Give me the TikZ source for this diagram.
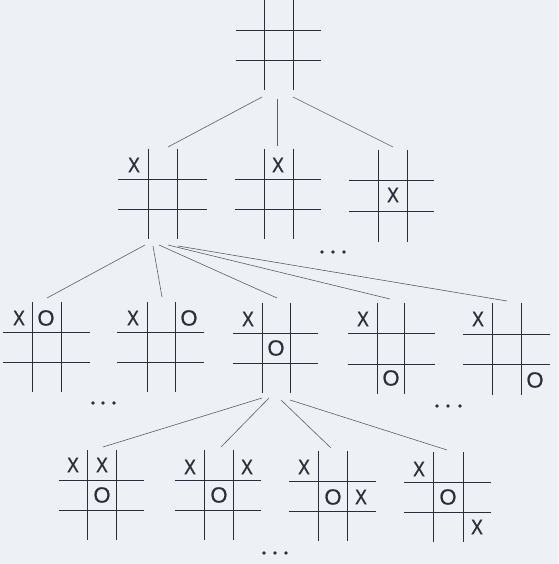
\documentclass[tikz,border=0pt]{standalone}
\usepackage{fontspec}
\newfontfamily\xfont[FakeStretch=0.84,FakeBold=0.8]{Liberation Sans}
\newfontfamily\ofont[FakeBold=0.8]{Liberation Sans}
\definecolor{paper}{HTML}{EDF0F4}
\definecolor{ink}{HTML}{2A2D3A}
\definecolor{edgecol}{HTML}{5A5E68}
\tikzset{
  gridline/.style={draw=ink, line width=1pt},
  branch/.style={draw=edgecol, line width=0.6pt},
  xmk/.style={inner sep=0pt, text=ink, font=\xfont\fontsize{21}{21}\selectfont},
  omk/.style={inner sep=0pt, text=ink, font=\ofont\fontsize{22}{22}\selectfont},
  dotmark/.style={circle, fill=ink, inner sep=0pt, minimum size=3.8pt},
}
% name, v1, v2, top, bottom, h1, h2, left, right
\newcommand{\tgrid}[9]{%
  \coordinate (#1) at ({(#2+#3)/2},{(#6+#7)/2});
  \draw[gridline] (#2,#4) -- (#2,#5) (#3,#4) -- (#3,#5) (#8,#6) -- (#9,#6) (#8,#7) -- (#9,#7);
}
\begin{document}
\begin{tikzpicture}[x=1pt,y=-1pt]
\fill[paper] (0,0) rectangle (558,564);
\useasboundingbox (0,0) rectangle (558,564);

% boards
\tgrid{root}{264}{293}{0}{90}{31}{61}{236}{321}
\tgrid{l1a}{148}{177}{149}{239}{179}{209}{118}{207}
\tgrid{l1b}{264}{293}{149}{239}{179}{209}{235}{321}
\tgrid{l1c}{378}{407}{150}{242}{180}{211}{349}{434}
\tgrid{l2a}{32}{61}{302}{392}{332}{362}{3}{90}
\tgrid{l2b}{147}{175}{302}{392}{332}{362}{117}{204}
\tgrid{l2c}{262}{290}{303}{393}{333}{363}{233}{318}
\tgrid{l2d}{377}{404}{303}{394}{333}{364}{348}{435}
\tgrid{l2e}{492}{521}{303}{395}{334}{364}{463}{550}
\tgrid{l3a}{87}{116}{450}{540}{480}{510}{59}{144}
\tgrid{l3b}{204}{233}{450}{540}{480}{510}{175}{261}
\tgrid{l3c}{318}{347}{451}{541}{481}{511}{289}{376}
\tgrid{l3d}{433}{463}{452}{542}{482}{512}{404}{491}

% marks
\node[xmk] (l1a-x) at (134,165) {X};
\node[xmk] (l1b-x) at (278,165) {X};
\node[xmk] (l1c-x) at (393,195) {X};
\node[xmk] (l2a-x) at (19,318) {X};
\node[omk] (l2a-o) at (46,318) {O};
\node[xmk] (l2b-x) at (133,318) {X};
\node[omk] (l2b-o) at (189,318) {O};
\node[xmk] (l2c-x) at (248,319) {X};
\node[omk] (l2c-o) at (276,348) {O};
\node[xmk] (l2d-x) at (363,319) {X};
\node[omk] (l2d-o) at (391,378) {O};
\node[xmk] (l2e-x) at (478,319) {X};
\node[omk] (l2e-o) at (535,380) {O};
\node[xmk] (l3a-x1) at (73,465) {X};
\node[xmk] (l3a-x2) at (102,465) {X};
\node[omk] (l3a-o) at (102,495) {O};
\node[xmk] (l3b-x1) at (190,467) {X};
\node[xmk] (l3b-x2) at (247,467) {X};
\node[omk] (l3b-o) at (219,495) {O};
\node[xmk] (l3c-x1) at (304,467) {X};
\node[omk] (l3c-o) at (333,497) {O};
\node[xmk] (l3c-x2) at (361,497) {X};
\node[xmk] (l3d-x1) at (419,469) {X};
\node[omk] (l3d-o) at (448,497) {O};
\node[xmk] (l3d-x2) at (477,527) {X};

% ellipses
\foreach \n/\x/\y in {d1a/322/252,d1b/333/252,d1c/344/252,
                      d2a/93/403,d2b/103/403,d2c/114/403,
                      d3a/437/406,d3b/448/406,d3c/460/406,
                      d4a/264/553,d4b/275/553,d4c/286/553}
  \node[dotmark] (\n) at (\x,\y) {};

% connector end points
\coordinate (r-s1) at (262,97);  \coordinate (l1a-n) at (168,147);
\coordinate (r-s2) at (277,99);  \coordinate (l1b-n) at (277,146);
\coordinate (r-s3) at (293,97);  \coordinate (l1c-n) at (393,147);
\coordinate (a-s1) at (145,245); \coordinate (l2a-n) at (47,298);
\coordinate (a-s2) at (153,246); \coordinate (l2b-n) at (162,297);
\coordinate (a-s3) at (159,245); \coordinate (l2c-n) at (277,298);
\coordinate (a-s4) at (168,245); \coordinate (l2d-n) at (390,299);
\coordinate (a-s5) at (178,246); \coordinate (l2e-n) at (507,301);
\coordinate (c-s1) at (262,398); \coordinate (l3a-n) at (103,447);
\coordinate (c-s2) at (269,398); \coordinate (l3b-n) at (221,447);
\coordinate (c-s3) at (281,400); \coordinate (l3c-n) at (331,448);
\coordinate (c-s4) at (290,400); \coordinate (l3d-n) at (447,450);

% connectors
\draw[branch] (r-s1) -- (l1a-n);
\draw[branch] (r-s2) -- (l1b-n);
\draw[branch] (r-s3) -- (l1c-n);
\draw[branch] (a-s1) -- (l2a-n);
\draw[branch] (a-s2) -- (l2b-n);
\draw[branch] (a-s3) -- (l2c-n);
\draw[branch] (a-s4) -- (l2d-n);
\draw[branch] (a-s5) -- (l2e-n);
\draw[branch] (c-s1) -- (l3a-n);
\draw[branch] (c-s2) -- (l3b-n);
\draw[branch] (c-s3) -- (l3c-n);
\draw[branch] (c-s4) -- (l3d-n);
\end{tikzpicture}
\end{document}
